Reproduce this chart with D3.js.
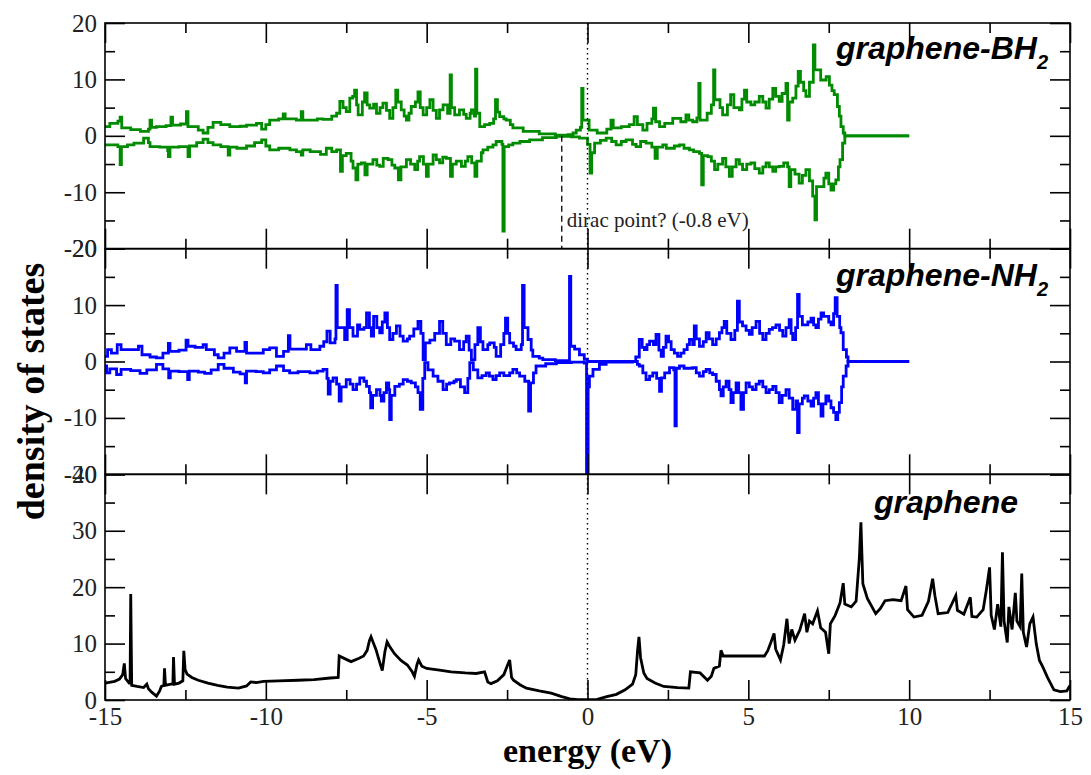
<!DOCTYPE html>
<html>
<head>
<meta charset="utf-8">
<script src="https://cdn.jsdelivr.net/npm/d3@7"></script>
<style>
  html, body { margin: 0; padding: 0; background: #fff; }
  svg { display: block; }
</style>
</head>
<body>
<svg id="chart"></svg>
<script>
// energy axis
const energyTicks = [-15, -10, -5, 0, 5, 10, 15];
const energyMinor = [-12.5, -7.5, -2.5, 2.5, 7.5, 12.5];
const spinTicks = [-20, -10, 0, 10, 20];
const spinMinor = [-15, -5, 5, 15];
const dosTicks = [0, 10, 20, 30, 40];
const dosMinor = [5, 15, 25, 35];
const diracPoint = -0.8;

// graphene-BH2, spin up / spin down  [energy, dos]
const bh2Up = [[-15,1.65],[-14.85,2.2],[-14.6,2.6],[-14.53,3.3],[-14.48,1.4],[-14.2,1.1],[-13.9,0.8],[-13.65,1.2],[-13.6,2.8],[-13.55,1.5],[-13.4,1.65],[-13.1,1.8],[-12.95,3.3],[-12.9,1.9],[-12.65,2.1],[-12.47,4.3],[-12.42,1.65],[-12.1,1.0],[-11.95,0.5],[-11.8,1.5],[-11.64,2.4],[-11.4,2.0],[-11.12,1.65],[-10.8,1.7],[-10.6,1.9],[-10.29,2.2],[-10.13,1.2],[-10.0,2.0],[-9.88,2.8],[-9.6,3.0],[-9.46,3.9],[-9.4,3.0],[-9.05,2.8],[-8.9,4.3],[-8.85,2.8],[-8.63,2.8],[-8.4,3.0],[-8.22,2.9],[-7.95,3.5],[-7.8,4.0],[-7.7,6.1],[-7.6,5.0],[-7.5,4.3],[-7.39,6.7],[-7.3,7.0],[-7.24,8.1],[-7.18,5.5],[-7.13,3.7],[-7.0,6.0],[-6.93,7.6],[-6.85,5.5],[-6.77,4.9],[-6.65,5.6],[-6.56,4.0],[-6.45,5.0],[-6.36,5.8],[-6.25,4.5],[-6.15,3.1],[-6.05,5.0],[-5.96,8.1],[-5.9,6.0],[-5.79,4.6],[-5.7,3.5],[-5.63,2.8],[-5.55,4.0],[-5.48,5.2],[-5.35,6.0],[-5.27,7.8],[-5.2,5.0],[-5.11,3.7],[-5.0,5.0],[-4.9,6.4],[-4.8,4.5],[-4.7,3.1],[-4.6,4.6],[-4.49,5.5],[-4.35,4.0],[-4.27,10.8],[-4.23,5.0],[-4.13,3.7],[-3.98,4.6],[-3.85,3.8],[-3.77,3.1],[-3.65,4.0],[-3.61,4.6],[-3.52,3.5],[-3.48,11.8],[-3.44,4.0],[-3.35,1.65],[-3.2,2.0],[-3.04,2.2],[-2.92,3.0],[-2.86,6.4],[-2.8,4.2],[-2.73,3.4],[-2.6,3.0],[-2.53,2.8],[-2.4,2.0],[-2.32,1.4],[-2.0,0.8],[-1.5,0.35],[-1.0,0.1],[-0.6,0.2],[-0.45,0.5],[-0.35,1.0],[-0.22,1.5],[-0.18,8.4],[-0.14,2.8],[-0.04,2.8],[0.05,1.0],[0.3,0.5],[0.6,1.2],[0.73,2.8],[0.8,1.4],[1.05,1.65],[1.3,2.0],[1.45,3.4],[1.55,2.0],[1.72,1.0],[1.85,2.2],[2.0,3.0],[2.05,4.9],[2.12,2.5],[2.24,1.65],[2.4,2.2],[2.65,3.1],[2.9,2.5],[3.06,3.7],[3.15,2.8],[3.27,2.5],[3.4,3.2],[3.46,9.3],[3.5,2.8],[3.72,4.0],[3.85,5.5],[3.92,11.7],[3.96,6.4],[4.12,5.0],[4.2,3.7],[4.35,5.5],[4.45,7.3],[4.55,5.0],[4.72,4.6],[4.8,6.5],[4.88,8.1],[4.95,6.0],[5.08,5.5],[5.2,6.0],[5.34,7.0],[5.45,6.0],[5.55,4.9],[5.65,6.5],[5.76,8.4],[5.85,7.0],[5.96,6.1],[6.05,7.5],[6.17,9.3],[6.22,2.8],[6.27,6.0],[6.38,6.7],[6.48,8.8],[6.55,11.4],[6.62,9.5],[6.72,8.0],[6.79,7.0],[6.9,9.5],[7.02,16.1],[7.07,11.7],[7.25,9.9],[7.42,10.5],[7.52,9.0],[7.6,8.0],[7.67,7.3],[7.77,5.2],[7.83,3.5],[7.88,1.65],[7.95,0.5],[8.0,0.0],[10.0,0.0]];
const bh2Down = [[-15,-1.6],[-14.6,-1.9],[-14.53,-5.1],[-14.49,-1.9],[-14.3,-1.6],[-14.1,-1.3],[-13.8,-0.4],[-13.65,-1.2],[-13.6,-1.9],[-13.3,-2.0],[-13.05,-2.6],[-13.03,-3.7],[-12.98,-2.0],[-12.7,-1.9],[-12.42,-3.7],[-12.37,-1.8],[-12.15,-1.2],[-11.95,-0.6],[-11.8,-1.2],[-11.64,-1.6],[-11.4,-1.9],[-11.17,-3.4],[-11.12,-2.0],[-10.9,-2.2],[-10.6,-1.8],[-10.35,-1.2],[-10.13,-0.7],[-10.0,-1.8],[-9.88,-2.5],[-9.6,-2.2],[-9.25,-2.5],[-9.05,-2.8],[-8.9,-3.4],[-8.85,-2.5],[-8.62,-2.8],[-8.3,-3.3],[-8.12,-2.2],[-7.95,-2.8],[-7.8,-2.5],[-7.68,-6.3],[-7.62,-3.5],[-7.5,-3.1],[-7.35,-4.5],[-7.29,-5.7],[-7.2,-7.8],[-7.14,-5.0],[-7.03,-4.8],[-6.92,-6.9],[-6.85,-5.0],[-6.67,-4.2],[-6.55,-5.2],[-6.46,-5.4],[-6.35,-4.0],[-6.2,-4.2],[-6.08,-5.2],[-5.99,-5.7],[-5.88,-7.8],[-5.8,-5.5],[-5.63,-4.2],[-5.5,-5.0],[-5.37,-6.0],[-5.28,-4.5],[-5.22,-3.7],[-5.1,-5.0],[-5.01,-7.2],[-4.95,-5.0],[-4.8,-3.4],[-4.7,-4.2],[-4.6,-4.8],[-4.5,-3.8],[-4.39,-4.0],[-4.26,-7.2],[-4.2,-5.0],[-4.08,-4.5],[-3.92,-5.4],[-3.8,-4.5],[-3.72,-3.7],[-3.6,-4.8],[-3.5,-7.2],[-3.44,-4.5],[-3.3,-3.0],[-3.25,-2.5],[-3.1,-2.0],[-2.94,-1.6],[-2.84,-1.0],[-2.66,-1.5],[-2.63,-16.9],[-2.59,-1.9],[-2.45,-1.6],[-2.32,-1.3],[-2.1,-1.0],[-1.8,-0.7],[-1.4,-0.3],[-0.97,-0.1],[-0.5,-0.2],[-0.25,-0.4],[0.0,-1.5],[0.08,-6.6],[0.13,-3.0],[0.22,-1.3],[0.4,-0.8],[0.58,-0.4],[0.75,-1.0],[0.89,-1.6],[1.05,-1.0],[1.2,-0.7],[1.4,-1.5],[1.51,-1.9],[1.65,-1.0],[1.82,-1.3],[2.0,-2.0],[2.1,-4.0],[2.17,-2.0],[2.34,-1.6],[2.45,-2.2],[2.7,-1.8],[2.86,-1.6],[3.0,-2.2],[3.17,-2.5],[3.3,-2.8],[3.48,-3.1],[3.55,-8.7],[3.6,-3.5],[3.74,-3.7],[3.85,-4.5],[3.95,-6.0],[4.05,-5.0],[4.2,-4.0],[4.3,-5.5],[4.41,-7.2],[4.5,-5.5],[4.62,-4.2],[4.72,-5.0],[4.82,-6.0],[4.95,-5.0],[5.08,-4.8],[5.2,-5.8],[5.34,-6.6],[5.45,-5.5],[5.55,-4.8],[5.65,-5.5],[5.76,-6.3],[5.85,-5.5],[5.96,-5.4],[6.1,-4.8],[6.22,-5.5],[6.27,-9.0],[6.32,-6.0],[6.45,-6.8],[6.58,-8.4],[6.68,-7.0],[6.79,-6.0],[6.9,-8.0],[7.0,-10.7],[7.07,-14.9],[7.12,-9.0],[7.35,-7.5],[7.41,-6.6],[7.5,-8.5],[7.57,-9.6],[7.65,-8.5],[7.72,-7.8],[7.8,-5.5],[7.85,-4.2],[7.93,-1.3],[8.0,0.0],[10.0,0.0]];

// graphene-NH2, spin up / spin down
const nh2Up = [[-15,0.9],[-14.92,2.1],[-14.8,1.5],[-14.62,3.0],[-14.5,2.1],[-14.2,2.1],[-13.96,2.7],[-13.85,1.2],[-13.6,0.8],[-13.4,0.65],[-13.2,1.5],[-13.03,3.2],[-12.98,1.8],[-12.7,2.0],[-12.48,3.8],[-12.42,2.7],[-12.2,2.5],[-11.95,3.0],[-11.85,2.1],[-11.6,1.2],[-11.48,0.65],[-11.3,1.5],[-11.12,2.4],[-10.91,1.8],[-10.65,3.4],[-10.6,1.5],[-10.3,1.5],[-10.08,2.1],[-9.88,2.4],[-9.67,0.9],[-9.45,1.8],[-9.3,4.6],[-9.25,2.2],[-9.0,2.2],[-8.74,3.0],[-8.6,2.1],[-8.32,2.7],[-8.2,3.5],[-8.1,5.4],[-8.0,3.3],[-7.85,4.0],[-7.82,13.5],[-7.78,6.0],[-7.65,6.0],[-7.55,3.9],[-7.47,9.2],[-7.4,6.0],[-7.29,4.5],[-7.15,6.5],[-7.08,5.7],[-6.95,6.0],[-6.87,8.6],[-6.78,6.0],[-6.72,4.5],[-6.65,8.0],[-6.55,6.0],[-6.46,5.1],[-6.38,7.0],[-6.3,8.6],[-6.22,6.0],[-6.15,3.9],[-6.05,5.0],[-5.94,6.3],[-5.83,4.5],[-5.73,3.6],[-5.6,4.0],[-5.53,4.5],[-5.4,5.8],[-5.27,7.1],[-5.18,5.0],[-5.11,0.35],[-5.04,3.3],[-4.9,3.8],[-4.75,5.0],[-4.6,7.1],[-4.5,5.0],[-4.39,3.0],[-4.25,4.0],[-4.13,3.6],[-3.98,2.1],[-3.85,3.5],[-3.77,4.5],[-3.68,2.0],[-3.61,0.35],[-3.5,3.0],[-3.41,6.0],[-3.33,3.5],[-3.25,2.1],[-3.1,3.0],[-3.04,3.3],[-2.9,2.5],[-2.84,0.9],[-2.7,3.0],[-2.6,5.0],[-2.55,7.7],[-2.48,5.0],[-2.42,3.3],[-2.3,2.7],[-2.22,2.1],[-2.06,3.0],[-2.02,13.5],[-1.97,6.0],[-1.85,3.9],[-1.75,2.0],[-1.7,0.9],[-1.5,0.6],[-1.39,0.35],[-1.0,0.15],[-0.6,0.05],[-0.56,15.1],[-0.52,2.7],[-0.4,2.2],[-0.25,1.2],[-0.1,0.4],[0.0,0.0],[1.35,0.0],[1.5,0.8],[1.61,3.9],[1.7,2.5],[1.77,2.1],[1.85,3.0],[1.93,3.6],[2.05,3.0],[2.13,4.8],[2.22,2.0],[2.29,0.9],[2.36,2.5],[2.44,4.5],[2.52,3.5],[2.6,2.1],[2.7,1.5],[2.8,0.9],[2.9,1.5],[3.0,2.1],[3.1,3.0],[3.17,3.9],[3.27,3.0],[3.32,6.3],[3.38,4.0],[3.48,2.7],[3.6,3.5],[3.69,5.1],[3.78,4.0],[3.89,3.0],[4.0,4.0],[4.1,5.1],[4.18,6.0],[4.25,7.1],[4.33,5.0],[4.46,3.9],[4.58,5.5],[4.66,10.7],[4.72,7.0],[4.82,6.3],[4.93,5.5],[5.03,4.8],[5.12,6.0],[5.24,7.1],[5.35,5.0],[5.45,3.9],[5.55,5.0],[5.65,5.7],[5.75,6.0],[5.86,6.5],[5.97,5.5],[6.07,4.5],[6.17,6.0],[6.27,7.4],[6.33,5.0],[6.38,3.9],[6.47,6.0],[6.53,11.9],[6.58,8.0],[6.68,6.5],[6.85,7.0],[6.95,7.7],[7.03,6.5],[7.1,6.0],[7.18,7.5],[7.26,8.6],[7.34,8.0],[7.5,7.0],[7.57,6.5],[7.65,8.5],[7.7,11.3],[7.76,8.0],[7.84,6.0],[7.88,5.1],[7.95,2.1],[8.05,0.8],[8.1,0.0],[10.0,0.0]];
const nh2Down = [[-15,-0.8],[-14.95,-2.0],[-14.85,-1.3],[-14.64,-2.3],[-14.5,-1.4],[-14.2,-1.6],[-13.91,-2.1],[-13.7,-1.5],[-13.4,-0.5],[-13.2,-1.3],[-13.02,-2.9],[-12.97,-1.7],[-12.7,-1.8],[-12.43,-3.2],[-12.38,-1.7],[-12.1,-1.9],[-11.9,-2.1],[-11.7,-1.5],[-11.48,-0.5],[-11.3,-1.2],[-11.01,-1.9],[-10.8,-2.2],[-10.64,-3.8],[-10.6,-1.7],[-10.3,-1.8],[-10.08,-2.0],[-9.88,-1.5],[-9.67,-0.8],[-9.45,-1.6],[-9.26,-2.0],[-9.0,-1.8],[-8.63,-2.0],[-8.4,-1.7],[-8.22,-1.4],[-8.1,-3.0],[-8.06,-5.8],[-8.0,-3.5],[-7.91,-2.9],[-7.8,-4.0],[-7.72,-7.0],[-7.66,-4.5],[-7.5,-3.2],[-7.38,-4.0],[-7.29,-5.0],[-7.18,-4.0],[-7.08,-2.9],[-6.95,-3.5],[-6.87,-4.4],[-6.78,-5.5],[-6.74,-8.2],[-6.68,-6.0],[-6.56,-5.0],[-6.45,-6.0],[-6.41,-7.0],[-6.33,-5.5],[-6.25,-3.8],[-6.18,-5.0],[-6.15,-10.3],[-6.1,-6.0],[-5.99,-4.4],[-5.85,-4.0],[-5.73,-3.2],[-5.6,-3.5],[-5.48,-3.8],[-5.35,-4.5],[-5.27,-5.5],[-5.2,-8.5],[-5.12,-3.0],[-5.06,-0.2],[-4.96,-1.5],[-4.8,-2.6],[-4.65,-3.5],[-4.49,-5.0],[-4.38,-4.0],[-4.29,-3.8],[-4.15,-3.5],[-4.08,-3.2],[-3.95,-4.5],[-3.82,-5.5],[-3.72,-3.0],[-3.66,-0.2],[-3.55,-1.5],[-3.41,-2.9],[-3.28,-2.5],[-3.15,-2.0],[-3.05,-2.6],[-2.94,-3.2],[-2.84,-2.5],[-2.73,-2.0],[-2.6,-2.5],[-2.42,-2.0],[-2.32,-1.4],[-2.2,-2.0],[-2.11,-2.6],[-1.95,-3.5],[-1.83,-8.8],[-1.77,-3.8],[-1.68,-2.0],[-1.6,-0.8],[-1.3,-0.4],[-0.97,-0.2],[-0.5,-0.1],[-0.1,-0.3],[-0.03,-20],[0.02,-4.5],[0.06,-2.6],[0.17,-1.4],[0.37,-0.5],[0.58,-0.1],[1.4,0.0],[1.55,-0.5],[1.61,-0.8],[1.72,-2.0],[1.82,-3.2],[1.93,-2.6],[2.03,-2.0],[2.15,-3.0],[2.24,-5.3],[2.3,-2.9],[2.4,-2.0],[2.55,-1.1],[2.68,-1.5],[2.72,-11.4],[2.76,-1.2],[2.86,-0.8],[3.0,-1.2],[3.27,-1.1],[3.38,-2.0],[3.48,-2.6],[3.6,-1.8],[3.69,-1.4],[3.8,-2.0],[3.89,-2.3],[4.0,-3.5],[4.1,-5.0],[4.15,-6.1],[4.22,-4.5],[4.31,-3.5],[4.4,-5.0],[4.46,-7.3],[4.53,-5.5],[4.62,-3.8],[4.7,-5.5],[4.77,-8.5],[4.85,-5.5],[4.93,-3.8],[5.03,-4.5],[5.13,-5.0],[5.24,-4.0],[5.34,-3.5],[5.45,-4.5],[5.55,-5.5],[5.65,-5.0],[5.76,-4.4],[5.86,-5.5],[5.96,-7.3],[6.05,-6.0],[6.17,-5.0],[6.27,-6.5],[6.38,-8.5],[6.48,-7.0],[6.53,-12.6],[6.58,-7.5],[6.68,-6.5],[6.74,-6.1],[6.85,-7.0],[6.95,-7.9],[7.03,-6.5],[7.1,-5.5],[7.18,-7.5],[7.26,-9.7],[7.32,-7.5],[7.41,-6.1],[7.5,-7.0],[7.57,-8.2],[7.65,-9.0],[7.72,-10.3],[7.78,-9.0],[7.83,-7.3],[7.9,-4.5],[7.95,-2.6],[8.04,-0.8],[8.1,0.0],[10.0,0.0]];

// pristine graphene
const grapheneDos = [[-15,3.0],[-14.7,3.3],[-14.55,3.7],[-14.45,4.5],[-14.4,6.5],[-14.36,3.8],[-14.25,3.0],[-14.22,3.0],[-14.2,18.8],[-14.17,2.6],[-14.0,2.4],[-13.8,2.2],[-13.7,2.8],[-13.65,2.0],[-13.55,1.4],[-13.4,0.7],[-13.3,1.6],[-13.25,2.4],[-13.17,2.6],[-13.15,5.6],[-13.12,2.6],[-12.95,2.8],[-12.89,2.8],[-12.87,7.6],[-12.84,2.8],[-12.7,3.0],[-12.58,3.4],[-12.55,8.7],[-12.51,5.4],[-12.45,4.6],[-12.3,4.0],[-12.1,3.5],[-11.8,3.0],[-11.5,2.6],[-11.2,2.3],[-10.85,2.1],[-10.6,2.5],[-10.47,3.2],[-10.3,3.1],[-10.07,3.3],[-9.6,3.4],[-9.0,3.5],[-8.5,3.6],[-8.0,3.9],[-7.75,4.0],[-7.72,7.8],[-7.5,7.2],[-7.35,6.8],[-7.1,7.4],[-6.96,7.8],[-6.85,8.8],[-6.78,10.5],[-6.73,11.2],[-6.65,10.0],[-6.58,9.0],[-6.45,6.5],[-6.38,5.2],[-6.3,8.5],[-6.23,10.3],[-6.15,9.5],[-6.0,8.2],[-5.8,7.0],[-5.6,6.2],[-5.45,5.0],[-5.38,4.2],[-5.3,6.3],[-5.25,7.1],[-5.15,6.0],[-5.0,5.6],[-4.6,5.3],[-4.24,5.0],[-3.8,4.8],[-3.46,4.7],[-3.2,5.0],[-3.1,3.2],[-3.0,2.9],[-2.8,3.4],[-2.6,4.5],[-2.5,6.0],[-2.42,7.1],[-2.36,4.0],[-2.3,3.5],[-2.1,2.7],[-1.9,2.1],[-1.5,1.6],[-1.13,1.2],[-0.8,0.6],[-0.55,0.2],[-0.3,0.05],[0.3,0.1],[0.6,0.6],[0.9,1.0],[1.17,1.8],[1.4,2.8],[1.5,4.5],[1.56,9.0],[1.6,11.2],[1.65,7.5],[1.75,4.8],[1.85,3.8],[2.1,3.0],[2.37,2.4],[2.8,2.2],[3.15,2.1],[3.2,5.0],[3.5,4.8],[3.73,3.5],[3.85,4.2],[3.93,5.6],[4.1,6.0],[4.15,8.8],[4.22,7.8],[5.5,7.8],[5.6,8.7],[5.7,10.2],[5.8,11.8],[5.85,9.0],[6.0,7.1],[6.1,9.8],[6.2,14.4],[6.27,10.0],[6.35,12.5],[6.45,10.6],[6.6,12.4],[6.75,15.3],[6.82,12.0],[6.9,14.0],[7.0,13.5],[7.15,15.8],[7.25,12.8],[7.4,12.0],[7.5,8.2],[7.55,13.5],[7.7,15.0],[7.85,17.2],[7.95,20.7],[8.0,17.0],[8.2,16.5],[8.35,17.5],[8.45,25.0],[8.5,31.5],[8.56,20.6],[8.7,18.0],[8.96,15.3],[9.1,16.2],[9.25,17.6],[9.5,17.8],[9.75,17.6],[9.9,20.2],[9.95,16.0],[10.15,14.7],[10.4,15.0],[10.6,17.5],[10.73,21.5],[10.8,18.5],[10.9,15.3],[11.2,15.5],[11.45,18.5],[11.5,15.9],[11.7,15.2],[11.9,18.2],[11.95,14.8],[12.1,14.7],[12.3,16.0],[12.4,19.5],[12.5,23.5],[12.55,15.0],[12.65,12.5],[12.75,17.0],[12.85,13.0],[12.9,26.2],[12.95,14.0],[13.05,10.2],[13.1,16.5],[13.2,12.5],[13.3,19.0],[13.35,14.0],[13.45,13.0],[13.5,22.4],[13.55,12.0],[13.65,9.4],[13.75,13.5],[13.85,14.7],[13.95,10.0],[14.05,7.0],[14.15,5.9],[14.3,4.0],[14.5,1.8],[14.7,1.5],[14.9,1.6],[15.0,2.6]];

const W = 1091, H = 775;
const plotLeft = 105, plotRight = 1070, plotTop = 23, plotBottom = 700;
const panelH = (plotBottom - plotTop) / 3;
const serif = '"Liberation Serif", "Times New Roman", serif';
const sans = '"Liberation Sans", Arial, sans-serif';

const panels = [
  { label: 'graphene-BH', sub: '2', lx: 1048, ly: 59, color: '#008b00', domain: [-20, 20], major: spinTicks, minor: spinMinor, series: [bh2Up, bh2Down], step: true },
  { label: 'graphene-NH', sub: '2', lx: 1048, ly: 286, color: '#0000ff', domain: [-20, 20], major: spinTicks, minor: spinMinor, series: [nh2Up, nh2Down], step: true },
  { label: 'graphene', sub: '', lx: 1018, ly: 513, color: '#000000', domain: [0, 40], major: dosTicks, minor: dosMinor, series: [grapheneDos], step: false }
];

const svg = d3.select('#chart')
  .attr('width', W)
  .attr('height', H)
  .attr('viewBox', `0 0 ${W} ${H}`);

svg.append('rect').attr('width', W).attr('height', H).attr('fill', '#fff');

const x = d3.scaleLinear().domain([-15, 15]).range([plotLeft, plotRight]);
const plain = d => `${d}`;

const styleAxis = (g, labels) => {
  g.select('.domain').remove();
  g.selectAll('.tick line').attr('stroke', '#000').attr('stroke-width', 1.6);
  g.selectAll('.tick text')
    .attr('fill', '#222')
    .style('font-family', serif)
    .style('font-size', '25px');
  if (!labels) g.selectAll('.tick text').remove();
};

panels.forEach((p, i) => {
  const y0 = plotTop + i * panelH;
  const y1 = y0 + panelH;
  const y = d3.scaleLinear().domain(p.domain).range([y1, y0]);

  const clipId = `clip${i}`;
  svg.append('clipPath').attr('id', clipId)
    .append('rect')
    .attr('x', plotLeft).attr('y', y0)
    .attr('width', plotRight - plotLeft).attr('height', panelH);

  const line = d3.line()
    .x(d => x(d[0]))
    .y(d => y(d[1]))
    .curve(p.step ? d3.curveStepAfter : d3.curveLinear);

  svg.append('g')
    .attr('clip-path', `url(#${clipId})`)
    .selectAll('path')
    .data(p.series)
    .join('path')
    .attr('d', line)
    .attr('fill', 'none')
    .attr('stroke', p.color)
    .attr('stroke-width', 2.8)
    .attr('stroke-linejoin', 'miter');

  // x ticks on bottom and top edges
  const lastPanel = i === panels.length - 1;
  svg.append('g')
    .attr('transform', `translate(0,${y1})`)
    .call(d3.axisBottom(x).tickValues(energyTicks).tickSize(-20).tickPadding(7).tickFormat(plain))
    .call(g => styleAxis(g, lastPanel));
  svg.append('g')
    .attr('transform', `translate(0,${y1})`)
    .call(d3.axisBottom(x).tickValues(energyMinor).tickSize(-10).tickFormat(''))
    .call(g => styleAxis(g, false));
  svg.append('g')
    .attr('transform', `translate(0,${y0})`)
    .call(d3.axisTop(x).tickValues(energyTicks).tickSize(-20).tickFormat(''))
    .call(g => styleAxis(g, false));
  svg.append('g')
    .attr('transform', `translate(0,${y0})`)
    .call(d3.axisTop(x).tickValues(energyMinor).tickSize(-10).tickFormat(''))
    .call(g => styleAxis(g, false));

  // y ticks on left and right edges
  svg.append('g')
    .attr('transform', `translate(${plotLeft},0)`)
    .call(d3.axisLeft(y).tickValues(p.major).tickSize(-20).tickPadding(8).tickFormat(plain))
    .call(g => styleAxis(g, true));
  svg.append('g')
    .attr('transform', `translate(${plotLeft},0)`)
    .call(d3.axisLeft(y).tickValues(p.minor).tickSize(-10).tickFormat(''))
    .call(g => styleAxis(g, false));
  svg.append('g')
    .attr('transform', `translate(${plotRight},0)`)
    .call(d3.axisRight(y).tickValues(p.major).tickSize(-20).tickFormat(''))
    .call(g => styleAxis(g, false));
  svg.append('g')
    .attr('transform', `translate(${plotRight},0)`)
    .call(d3.axisRight(y).tickValues(p.minor).tickSize(-10).tickFormat(''))
    .call(g => styleAxis(g, false));

  svg.append('rect')
    .attr('x', plotLeft).attr('y', y0)
    .attr('width', plotRight - plotLeft).attr('height', panelH)
    .attr('fill', 'none')
    .attr('stroke', '#000')
    .attr('stroke-width', 1.6);

  const t = svg.append('text')
    .attr('x', p.lx)
    .attr('y', p.ly)
    .attr('text-anchor', 'end')
    .style('font-family', sans)
    .style('font-weight', 'bold')
    .style('font-style', 'italic')
    .style('font-size', '32px')
    .attr('fill', '#000')
    .text(p.label);
  if (p.sub) {
    t.append('tspan')
      .attr('dy', 10)
      .style('font-size', '20px')
      .text(p.sub);
  }

  // dirac point marker in the BH2 panel
  if (i === 0) {
    svg.append('line')
      .attr('x1', x(diracPoint)).attr('x2', x(diracPoint))
      .attr('y1', y(0)).attr('y2', y1)
      .attr('stroke', '#000')
      .attr('stroke-width', 1.3)
      .attr('stroke-dasharray', '6,4');
    svg.append('text')
      .attr('x', x(diracPoint) + 5)
      .attr('y', y1 - 22)
      .style('font-family', serif)
      .style('font-size', '21px')
      .attr('fill', '#222')
      .text('dirac point? (-0.8 eV)');
  }
});

// Fermi level
svg.append('line')
  .attr('x1', x(0)).attr('x2', x(0))
  .attr('y1', plotTop).attr('y2', plotBottom)
  .attr('stroke', '#000')
  .attr('stroke-width', 1.4)
  .attr('stroke-dasharray', '1.5,3.5');

svg.append('text')
  .attr('transform', `translate(44,${(plotTop + plotBottom) / 2 + 30}) rotate(-90)`)
  .attr('text-anchor', 'middle')
  .style('font-family', serif)
  .style('font-weight', 'bold')
  .style('font-size', '38px')
  .attr('fill', '#000')
  .text('density of states');

svg.append('text')
  .attr('x', (plotLeft + plotRight) / 2)
  .attr('y', 762)
  .attr('text-anchor', 'middle')
  .style('font-family', serif)
  .style('font-weight', 'bold')
  .style('font-size', '34px')
  .attr('fill', '#000')
  .text('energy (eV)');
</script>
</body>
</html>
